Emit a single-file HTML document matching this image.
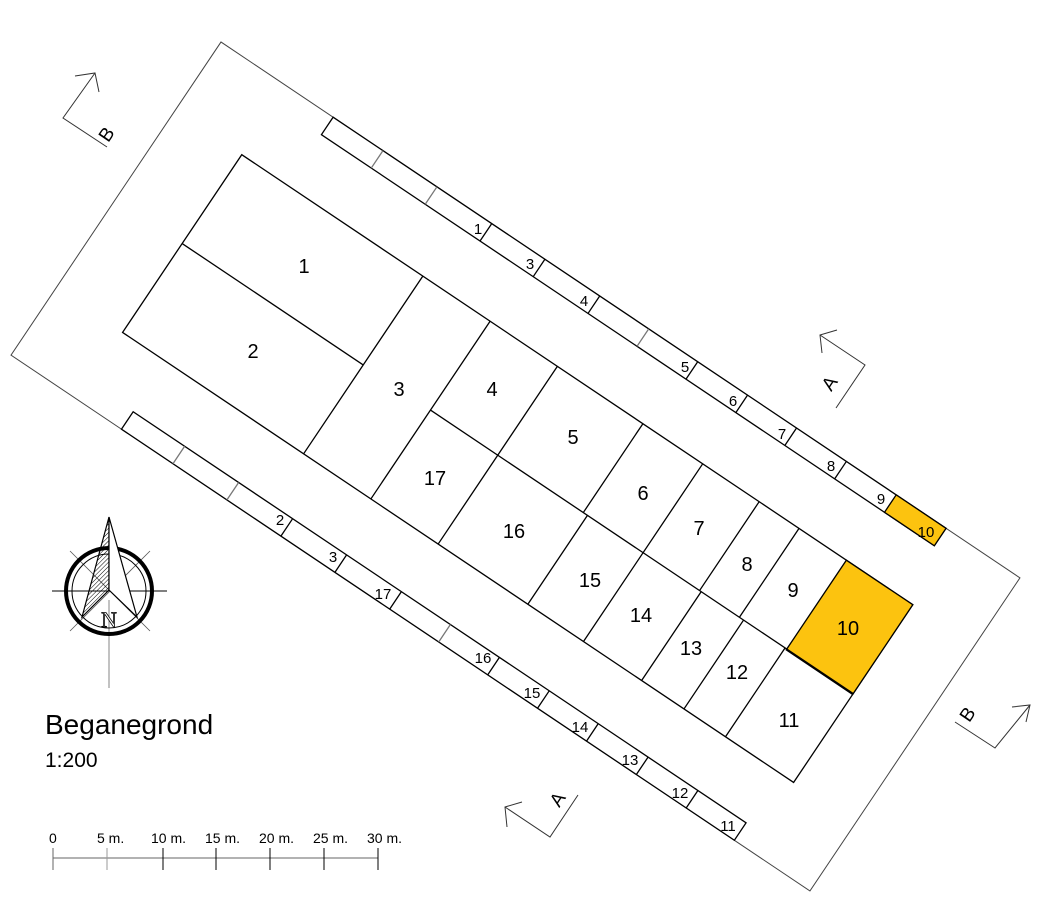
<!DOCTYPE html>
<html><head><meta charset="utf-8"><style>
html,body{margin:0;padding:0;background:#fff;}
svg{display:block;font-family:"Liberation Sans",sans-serif;}
</style></head><body>
<svg width="1041" height="913" viewBox="0 0 1041 913" xmlns="http://www.w3.org/2000/svg">
<defs>
<pattern id="hatch" width="3" height="3" patternUnits="userSpaceOnUse" patternTransform="rotate(45)">
<line x1="0" y1="0" x2="0" y2="3" stroke="#000" stroke-width="1"/>
</pattern>
</defs>
<g transform="translate(221,42) rotate(33.85)" fill="none" stroke="#000" stroke-width="1.3">
  <rect x="0" y="0" width="962" height="377" stroke="#444" stroke-width="1"/>
  <rect x="80" y="82" width="808" height="214"/>
  <rect x="808" y="82" width="80" height="108" fill="#fcc30f"/>
  <line x1="80" y1="189" x2="298" y2="189"/>
  <line x1="379" y1="189" x2="888" y2="189"/>
  <line x1="298" y1="82" x2="298" y2="296"/>
  <line x1="379" y1="82" x2="379" y2="296"/>
  <line x1="460" y1="82" x2="460" y2="296"/>
  <line x1="563" y1="82" x2="563" y2="189"/><line x1="568" y1="189" x2="568" y2="296"/>
  <line x1="635" y1="82" x2="635" y2="296"/>
  <line x1="703" y1="82" x2="703" y2="189"/><line x1="705" y1="189" x2="705" y2="296"/>
  <line x1="751" y1="82" x2="751" y2="189"/><line x1="756" y1="189" x2="756" y2="296"/>
  <line x1="806" y1="189" x2="806" y2="296"/>
  <!-- top strip -->
  <rect x="135" y="0" width="738" height="21" fill="#fff"/>
  <rect x="813" y="0" width="60" height="21" fill="#fcc30f"/>
  <g stroke="#777"><line x1="195" y1="0" x2="195" y2="21"/><line x1="260" y1="0" x2="260" y2="21"/><line x1="515" y1="0" x2="515" y2="21"/></g>
  <line x1="326" y1="0" x2="326" y2="21"/><line x1="390" y1="0" x2="390" y2="21"/><line x1="456" y1="0" x2="456" y2="21"/>
  <line x1="574" y1="0" x2="574" y2="21"/><line x1="634" y1="0" x2="634" y2="21"/><line x1="693" y1="0" x2="693" y2="21"/><line x1="753" y1="0" x2="753" y2="21"/>
  <!-- bottom strip -->
  <rect x="133" y="356" width="738" height="21" fill="#fff"/>
  <g stroke="#777"><line x1="195" y1="356" x2="195" y2="377"/><line x1="260" y1="356" x2="260" y2="377"/><line x1="515" y1="356" x2="515" y2="377"/></g>
  <line x1="325" y1="356" x2="325" y2="377"/><line x1="390" y1="356" x2="390" y2="377"/><line x1="456" y1="356" x2="456" y2="377"/>
  <line x1="574" y1="356" x2="574" y2="377"/><line x1="634" y1="356" x2="634" y2="377"/><line x1="693" y1="356" x2="693" y2="377"/><line x1="753" y1="356" x2="753" y2="377"/><line x1="813" y1="356" x2="813" y2="377"/>
</g>
<g font-size="20" text-anchor="middle" fill="#000">
<text x="304" y="273">1</text><text x="253" y="358">2</text><text x="399" y="396">3</text><text x="492" y="396">4</text>
<text x="435" y="485">17</text><text x="573" y="444">5</text><text x="514" y="538">16</text><text x="643" y="500">6</text>
<text x="590" y="587">15</text><text x="699" y="535">7</text><text x="641" y="622">14</text><text x="747" y="571">8</text>
<text x="691" y="655">13</text><text x="793" y="597">9</text><text x="737" y="679">12</text><text x="848" y="635">10</text>
<text x="789" y="727">11</text>
</g>
<g font-size="15" text-anchor="middle" fill="#000">
<text x="478" y="234">1</text><text x="530" y="269">3</text><text x="584" y="306">4</text><text x="685" y="372">5</text>
<text x="733" y="406">6</text><text x="782" y="439">7</text><text x="831" y="471">8</text><text x="881" y="504">9</text><text x="926" y="537">10</text>
<text x="280" y="525">2</text><text x="333" y="562">3</text><text x="383" y="599">17</text><text x="483" y="663">16</text>
<text x="532" y="698">15</text><text x="580" y="732">14</text><text x="630" y="765">13</text><text x="680" y="798">12</text><text x="728" y="831">11</text>
</g>
<g stroke="#333" stroke-width="1" fill="none">
<polyline points="107,147 63,118 95,73"/><polyline points="75,76 95,73 99,92"/>
<polyline points="820,335 865,365 836,408"/><polyline points="837,330 820,335 822,353"/>
<polyline points="505,807 550,837 578,795"/><polyline points="522,802 505,807 507,827"/>
<polyline points="955,722 995,748 1030,705"/><polyline points="1012,707 1030,705 1026,722"/>
</g>
<g font-size="19" fill="#000" text-anchor="middle">
<text transform="translate(106,134) rotate(-56)" dy="7">B</text>
<text transform="translate(829,383) rotate(-56)" dy="7">A</text>
<text transform="translate(557,799) rotate(-56)" dy="7">A</text>
<text transform="translate(967,714) rotate(-56)" dy="7">B</text>
</g>
<g>
<line x1="109" y1="600" x2="109" y2="688" stroke="#999" stroke-width="1.2"/>
<line x1="52" y1="591" x2="167" y2="591" stroke="#000" stroke-width="1"/>
<line x1="70" y1="551" x2="150" y2="631" stroke="#555" stroke-width="0.8"/>
<line x1="150" y1="551" x2="70" y2="631" stroke="#555" stroke-width="0.8"/>
<circle cx="109" cy="591" r="43" fill="none" stroke="#000" stroke-width="4"/>
<circle cx="109" cy="591" r="37" fill="none" stroke="#000" stroke-width="1"/>
<polygon points="109,517 82,617 109,590" fill="url(#hatch)" stroke="#000" stroke-width="1.2"/>
<polygon points="109,517 137,617 109,590" fill="#fff" stroke="#000" stroke-width="1.2"/>
<text x="109" y="627" font-family="Liberation Serif,serif" font-size="22" text-anchor="middle" fill="#fff" stroke="#000" stroke-width="0.8">N</text>
</g>
<text x="45" y="734" font-size="28" fill="#000">Beganegrond</text>
<text x="45" y="767" font-size="21" fill="#000">1:200</text>
<g stroke="#000" stroke-width="1">
<line x1="53" y1="858" x2="378" y2="858" stroke="#666"/>
<line x1="53" y1="848" x2="53" y2="870" stroke="#666"/><line x1="107" y1="848" x2="107" y2="870" stroke="#999"/>
<line x1="163" y1="848" x2="163" y2="870"/><line x1="216" y1="848" x2="216" y2="870"/><line x1="270" y1="848" x2="270" y2="870"/>
<line x1="324" y1="848" x2="324" y2="870"/><line x1="378" y1="848" x2="378" y2="870"/>
</g>
<g font-size="14" fill="#000">
<text x="49" y="843">0</text><text x="97" y="843">5 m.</text><text x="151" y="843">10 m.</text><text x="205" y="843">15 m.</text>
<text x="259" y="843">20 m.</text><text x="313" y="843">25 m.</text><text x="367" y="843">30 m.</text>
</g>
</svg>
</body></html>
